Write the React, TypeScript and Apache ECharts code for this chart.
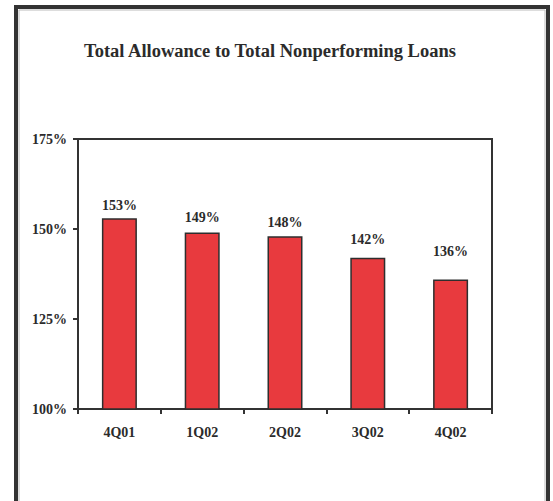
import React, { useEffect, useRef } from "react";
import * as echarts from "echarts";

const categories = ["4Q01", "1Q02", "2Q02", "3Q02", "4Q02"];
const values = [153, 149, 148, 142, 136];
const labelOffsets = [0, -2, -1, -5, -15];
const yTicks = [100, 125, 150, 175];

const FONT = "'Liberation Serif', 'Times New Roman', serif";
const TEXT = "#2b2b2b";

export default function App() {
  const ref = useRef<HTMLDivElement>(null);
  useEffect(() => {
    document.body.style.margin = "0";
    const chart = echarts.init(ref.current!, null, { renderer: "svg" });
    chart.setOption({
      animation: false,
      backgroundColor: "#ffffff",
      title: {
        text: "Total Allowance to Total Nonperforming Loans",
        left: 84,
        top: 41,
        padding: 0,
        textStyle: { fontFamily: FONT, fontSize: 18.5, fontWeight: "bold", color: TEXT },
      },
      graphic: [
        {
          type: "rect",
          shape: { x: 16, y: 7, width: 532, height: 520 },
          style: { fill: "none", stroke: "#333", lineWidth: 4 },
          silent: true,
        },
        {
          type: "rect",
          shape: { x: 19, y: 10, width: 526, height: 520 },
          style: { fill: "none", stroke: "#bbb", lineWidth: 1 },
          silent: true,
        },
      ],
      grid: {
        left: 78,
        right: 61,
        top: 139,
        bottom: 92,
        show: true,
        borderColor: "#333",
        borderWidth: 2,
        backgroundColor: "transparent",
      },
      xAxis: {
        type: "category",
        data: categories,
        axisLine: { lineStyle: { color: "#333", width: 2 } },
        axisTick: { show: true, length: 5, lineStyle: { color: "#333", width: 2 } },
        axisLabel: {
          margin: 16,
          fontFamily: FONT,
          fontSize: 14,
          fontWeight: "bold",
          color: TEXT,
        },
      },
      yAxis: {
        type: "value",
        min: yTicks[0],
        max: yTicks[yTicks.length - 1],
        interval: 25,
        axisLine: { show: true, lineStyle: { color: "#333", width: 2 } },
        axisTick: { show: true, length: 5, lineStyle: { color: "#333", width: 2 } },
        splitLine: { show: false },
        axisLabel: {
          margin: 11,
          formatter: "{value}%",
          fontFamily: FONT,
          fontSize: 14,
          fontWeight: "bold",
          color: TEXT,
        },
      },
      series: [
        {
          type: "bar",
          barWidth: 35,
          data: values.map((v, i) => ({
            value: v,
            label: { offset: [0, labelOffsets[i]] },
          })),
          itemStyle: {
            color: "#E83A3E",
            borderColor: "#2e2e2e",
            borderWidth: 1.5,
          },
          label: {
            show: true,
            position: "top",
            distance: 6,
            formatter: "{c}%",
            fontFamily: FONT,
            fontSize: 14,
            fontWeight: "bold",
            color: TEXT,
          },
        },
      ],
    });
    return () => chart.dispose();
  }, []);
  return (
    <div
      ref={ref}
      style={{ position: "absolute", left: 0, top: 0, width: 553, height: 501 }}
    />
  );
}
